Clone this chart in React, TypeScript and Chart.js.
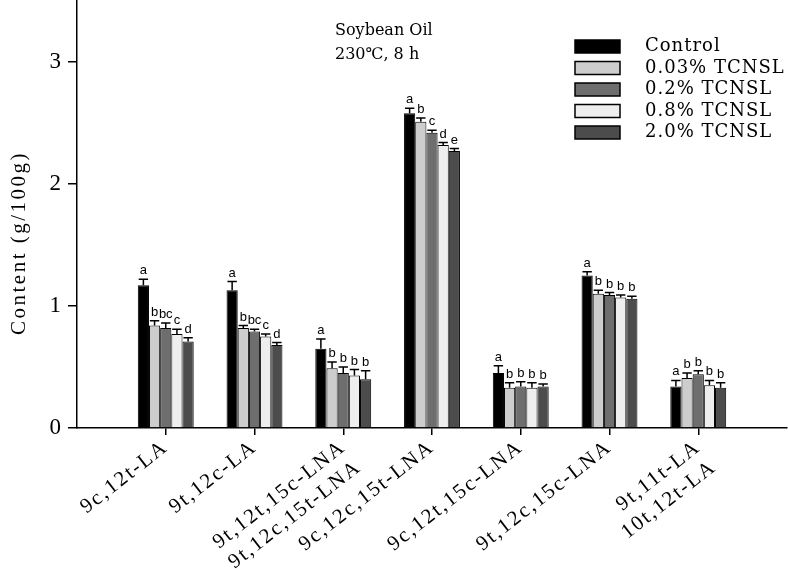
import { useEffect, useRef } from "react";
import { Chart, registerables } from "chart.js";
Chart.register(...registerables);

const groupLabels: (string | string[])[] = [
  "9c,12t-LA",
  "9t,12c-LA",
  ["9t,12t,15c-LNA", "9t,12c,15t-LNA"],
  "9c,12c,15t-LNA",
  "9c,12t,15c-LNA",
  "9t,12c,15c-LNA",
  ["9t,11t-LA", "10t,12t-LA"],
];

const seriesNames = ["Control", "0.03% TCNSL", "0.2% TCNSL", "0.8% TCNSL", "2.0% TCNSL"];
const seriesColors = ["#000000", "#cdcdcd", "#6e6e6e", "#eeeeee", "#4c4c4c"];

const control = [1.17, 1.13, 0.65, 2.58, 0.45, 1.25, 0.34];
const tcnsl003 = [0.84, 0.82, 0.49, 2.51, 0.33, 1.1, 0.41];
const tcnsl02 = [0.82, 0.79, 0.45, 2.42, 0.34, 1.09, 0.44];
const tcnsl08 = [0.77, 0.75, 0.43, 2.32, 0.33, 1.07, 0.35];
const tcnsl20 = [0.71, 0.68, 0.4, 2.27, 0.34, 1.06, 0.33];

const errControl = [0.05, 0.07, 0.08, 0.04, 0.06, 0.03, 0.05];
const err003 = [0.04, 0.02, 0.05, 0.03, 0.04, 0.03, 0.04];
const err02 = [0.04, 0.02, 0.05, 0.02, 0.04, 0.02, 0.03];
const err08 = [0.04, 0.02, 0.05, 0.02, 0.04, 0.02, 0.04];
const err20 = [0.03, 0.02, 0.07, 0.02, 0.02, 0.02, 0.04];

const lettersControl = ["a", "a", "a", "a", "a", "a", "a"];
const letters003 = ["b", "b", "b", "b", "b", "b", "b"];
const letters02 = ["bc", "bc", "b", "c", "b", "b", "b"];
const letters08 = ["c", "c", "b", "d", "b", "b", "b"];
const letters20 = ["d", "d", "b", "e", "b", "b", "b"];

const yTicks = [0, 1, 2, 3];
const yTitle = "Content (g/100g)";
const titleLines = ["Soybean Oil", "230℃, 8 h"];

const allValues = [control, tcnsl003, tcnsl02, tcnsl08, tcnsl20];
const allErrors = [errControl, err003, err02, err08, err20];
const allLetters = [lettersControl, letters003, letters02, letters08, letters20];

const pad = (arr: any[]) => [null, ...arr, null];

const overlayPlugin = {
  id: "overlay",
  beforeDraw(chart: any) {
    (chart.ctx as any).letterSpacing = "2px";
  },
  beforeDatasetsDraw(chart: any) {
    (chart.ctx as any).letterSpacing = "0px";
  },
  afterDatasetsDraw(chart: any) {
    const ctx = chart.ctx;
    const yScale = chart.scales.y;
    ctx.save();
    (ctx as any).letterSpacing = "0px";
    allValues.forEach((vals, i) => {
      const meta = chart.getDatasetMeta(i);
      vals.forEach((v, j) => {
        const bar = meta.data[j + 1];
        if (!bar) return;
        const err = allErrors[i][j];
        const yTop = yScale.getPixelForValue(v + err);
        const yBar = yScale.getPixelForValue(v);
        const half = bar.width * 0.42;
        ctx.strokeStyle = "#000";
        ctx.lineWidth = 1.5;
        ctx.beginPath();
        ctx.moveTo(bar.x, yBar);
        ctx.lineTo(bar.x, yTop);
        ctx.moveTo(bar.x - half, yTop);
        ctx.lineTo(bar.x + half, yTop);
        ctx.stroke();
        ctx.fillStyle = "#000";
        ctx.font = "13px 'Liberation Sans'";
        ctx.textAlign = "center";
        ctx.textBaseline = "bottom";
        ctx.fillText(allLetters[i][j], bar.x, yTop - 2);
      });
    });
    // title
    ctx.fillStyle = "#000";
    ctx.font = "16px 'DejaVu Serif'";
    ctx.textAlign = "left";
    ctx.textBaseline = "middle";
    titleLines.forEach((t, k) => ctx.fillText(t, 335, 31 + k * 24));
    // legend
    ctx.font = "18px 'DejaVu Serif'";
    (ctx as any).letterSpacing = "1px";
    seriesNames.forEach((name, k) => {
      const cy = 46.5 + k * 21.5;
      ctx.fillStyle = seriesColors[k];
      ctx.fillRect(575, cy - 6.5, 45, 13);
      ctx.strokeStyle = "#000";
      ctx.lineWidth = 1.5;
      ctx.strokeRect(575, cy - 6.5, 45, 13);
      ctx.fillStyle = "#000";
      ctx.fillText(name, 645, cy);
    });
    // y axis title
    ctx.save();
    ctx.translate(19, 243);
    ctx.rotate(-Math.PI / 2);
    ctx.font = "21px 'Liberation Serif'";
    (ctx as any).letterSpacing = "2.5px";
    ctx.textAlign = "center";
    ctx.textBaseline = "middle";
    ctx.fillText(yTitle, 0, 0);
    ctx.restore();
    ctx.restore();
  },
};

export default function App() {
  const ref = useRef<HTMLCanvasElement>(null);
  useEffect(() => {
    const labels = ["", ...groupLabels, ""];
    const chart = new Chart(ref.current!, {
      type: "bar",
      data: {
        labels,
        datasets: allValues.map((vals, i) => ({
          label: seriesNames[i],
          data: pad(vals),
          backgroundColor: seriesColors[i],
          borderColor: "#000",
          borderWidth: 1,
          categoryPercentage: 0.63,
          barPercentage: 1.0,
        })),
      },
      options: {
        animation: false,
        responsive: false,
        layout: { padding: { left: 0, right: 1, top: 1, bottom: 0 } },
        plugins: { legend: { display: false }, tooltip: { enabled: false } },
        scales: {
          x: {
            offset: false,
            grid: {
              offset: false,
              drawOnChartArea: false,
              tickLength: 7,
              color: (c: any) => (c.index === 0 || c.index === labels.length - 1 ? "rgba(0,0,0,0)" : "#000"),
              lineWidth: 1.5,
            },
            border: { color: "#000", width: 1.5 },
            ticks: {
              autoSkip: false,
              minRotation: 38,
              maxRotation: 38,
              padding: 0,
              color: "#000",
              font: { family: "'Liberation Serif'", size: 21 },
            },
            afterFit: (s: any) => {
              s.height = 142;
              s.paddingLeft = 0;
              s.paddingRight = 0;
            },
          },
          y: {
            min: 0,
            max: 3.5,
            afterBuildTicks: (s: any) => {
              s.ticks = yTicks.map((v) => ({ value: v }));
            },
            grid: { drawOnChartArea: false, tickLength: 9, color: "#000", lineWidth: 1.5 },
            border: { color: "#000", width: 1.5 },
            ticks: {
              padding: 5,
              color: "#000",
              font: { family: "'Liberation Serif'", size: 23 },
            },
            afterFit: (s: any) => {
              s.width = 77;
              s.paddingTop = 0;
              s.paddingBottom = 0;
            },
          },
        },
      },
      plugins: [overlayPlugin],
    });
    return () => chart.destroy();
  }, []);
  return (
    <div style={{ position: "fixed", left: 0, top: 0, width: 788, height: 570, background: "#fff" }}>
      <canvas ref={ref} width={788} height={570} />
    </div>
  );
}
